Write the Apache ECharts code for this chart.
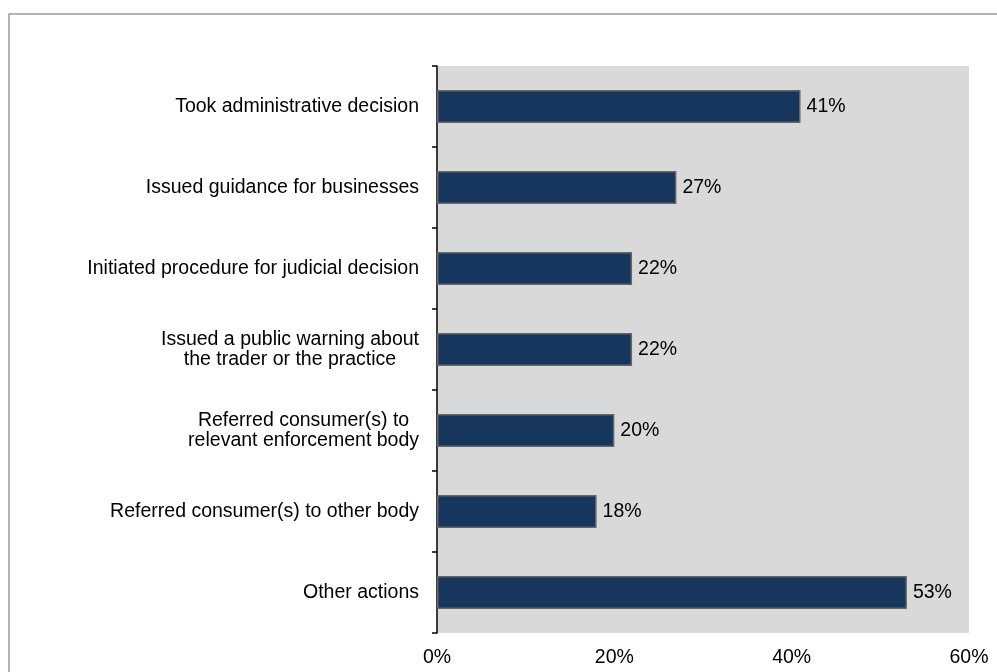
<!DOCTYPE html>
<html>
<head>
<meta charset="utf-8">
<script src="https://cdn.jsdelivr.net/npm/echarts@6/dist/echarts.min.js"></script>
<style>html,body{margin:0;padding:0;background:#fff}#c{width:997px;height:672px}</style>
</head>
<body>
<div id="c"></div>
<script>
var categories = [
  "Took administrative decision",
  "Issued guidance for businesses",
  "Initiated procedure for judicial decision",
  "Issued a public warning about\nthe trader or the practice",
  "Referred consumer(s) to\nrelevant enforcement body",
  "Referred consumer(s) to other body",
  "Other actions"
];
var values = [41, 27, 22, 22, 20, 18, 53];
var xTicks = [0, 20, 40, 60];

var FONT = 'Liberation Sans, Arial, sans-serif';
var FS = 19.5;
var chart = echarts.init(document.getElementById('c'));
chart.setOption({
  animation: false,
  backgroundColor: '#ffffff',
  graphic: [{
    type: 'rect',
    shape: { x: 9, y: 14, width: 1000, height: 700 },
    style: { fill: 'none', stroke: '#9a9a9a', lineWidth: 1.5 },
    silent: true
  }],
  grid: {
    left: 437, right: 28, top: 66, bottom: 39,
    show: true, backgroundColor: '#d9d9d9', borderWidth: 0
  },
  xAxis: {
    type: 'value', min: xTicks[0], max: xTicks[xTicks.length - 1], interval: 20,
    axisLine: { show: false }, axisTick: { show: false }, splitLine: { show: false },
    axisLabel: {
      formatter: function (v) { return v + '%'; },
      color: '#000', fontSize: FS, fontFamily: FONT, margin: 15
    }
  },
  yAxis: {
    type: 'category', data: categories, inverse: true,
    axisLine: { show: true, lineStyle: { color: '#000', width: 1.5 } },
    axisTick: { show: true, length: 5, inside: false, lineStyle: { color: '#000', width: 1.5 } },
    axisLabel: {
      margin: 18, color: '#000', fontSize: FS, lineHeight: 20,
      fontFamily: FONT,
      formatter: function (v) {
        return v.split('\n').map(function (s) { return '{a|' + s + '}'; }).join('\n');
      },
      rich: { a: { align: 'center', fontSize: FS, lineHeight: 20, color: '#000', fontFamily: FONT } }
    }
  },
  series: [{
    type: 'bar', data: values, barWidth: 33,
    itemStyle: { color: '#17365d', borderColor: '#666666', borderWidth: 1.5 },
    label: {
      show: true, position: 'right', distance: 6,
      formatter: '{c}%', color: '#000', fontSize: FS, fontFamily: FONT
    }
  }]
});
</script>
</body>
</html>
